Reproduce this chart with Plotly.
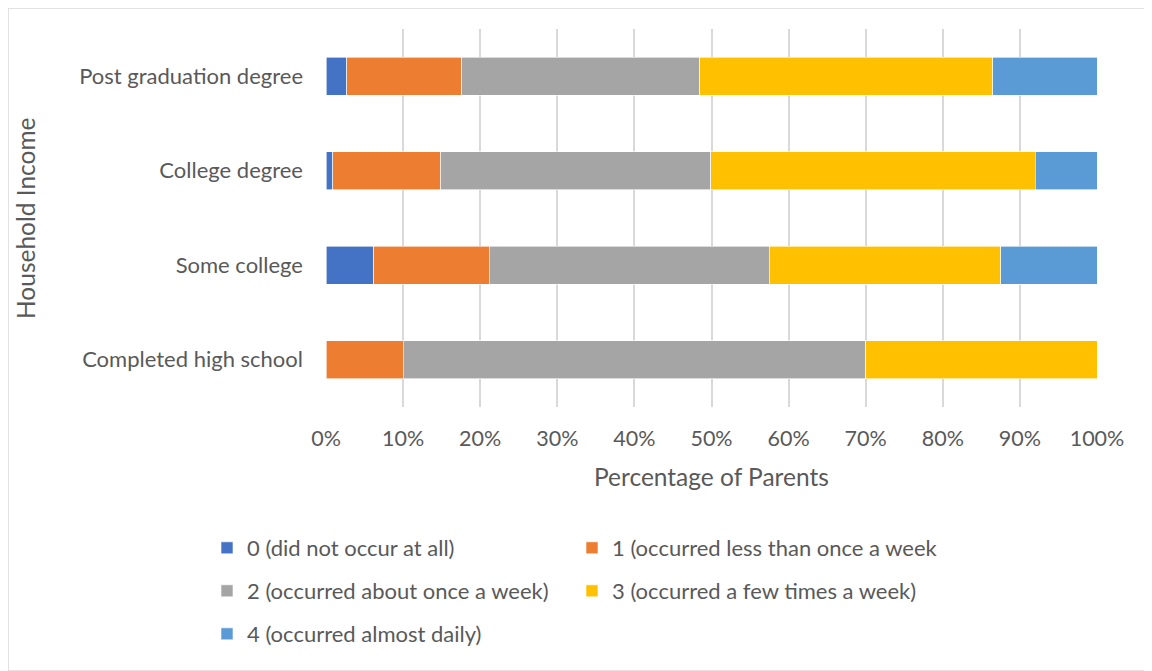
import plotly.graph_objects as go

education = ["Completed high school", "Some college", "College degree", "Post graduation degree"]

never = [0.0, 6.2, 0.9, 2.7]
less_than_weekly = [10.0, 15.0, 14.0, 14.9]
about_weekly = [60.0, 36.3, 35.0, 30.9]
few_times_weekly = [30.0, 30.0, 42.1, 38.0]
almost_daily = [0.0, 12.5, 8.0, 13.5]

series = [
    ("0 (did not occur at all)", never, "#4472C4", "legend"),
    ("1 (occurred less than once a week)", less_than_weekly, "#ED7D31", "legend"),
    ("2 (occurred about once a week)", about_weekly, "#A5A5A5", "legend2"),
    ("3 (occurred a few times a week)", few_times_weekly, "#FFC000", "legend2"),
    ("4 (occurred almost daily)", almost_daily, "#5B9BD5", "legend3"),
]

FONT = "Lato, Carlito, Calibri, sans-serif"
GREY_TEXT = "#595959"

# the page has an 8px body margin, so work in figure coords = page - 8
OFF = 8
W, H = 1152 - OFF, 671 - OFF
L, T = 326 - OFF, 29 - OFF
R = W - (1097 - OFF)
B = H - (407 - OFF)
pw = W - L - R
ph = H - T - B


def px_x(page_x):
    return (page_x - OFF - L) / pw


def px_y(page_y):
    return (T + ph - (page_y - OFF)) / ph


fig = go.Figure()
for name, vals, colour, leg in series:
    fig.add_trace(go.Bar(
        y=education,
        x=vals,
        name=name,
        orientation="h",
        marker=dict(color=colour, line=dict(color="white", width=0.6)),
        legend=leg,
    ))

legend_style = dict(
    orientation="h",
    xanchor="left",
    yanchor="middle",
    x=px_x(207),
    entrywidth=320,
    entrywidthmode="pixels",
    font=dict(family=FONT, size=22, color=GREY_TEXT),
    itemwidth=30,
    bgcolor="rgba(0,0,0,0)",
    traceorder="normal",
)

fig.update_layout(
    width=W,
    height=H,
    margin=dict(l=L, r=R, t=T, b=B),
    paper_bgcolor="white",
    plot_bgcolor="white",
    barmode="stack",
    bargap=0.6,
    font=dict(family=FONT, size=22, color=GREY_TEXT),
    xaxis=dict(
        range=[0, 100],
        dtick=10,
        ticksuffix="%",
        showgrid=True,
        gridcolor="#D9D9D9",
        gridwidth=2,
        zeroline=False,
        showline=False,
        ticklabelstandoff=16,
        tickfont=dict(family=FONT, size=21.5, color=GREY_TEXT),
    ),
    yaxis=dict(
        categoryorder="array",
        categoryarray=education,
        showgrid=False,
        zeroline=False,
        showline=False,
        ticklabelstandoff=22,
        tickfont=dict(family=FONT, size=22, color=GREY_TEXT),
    ),
    legend=dict(legend_style, y=px_y(548)),
    legend2=dict(legend_style, y=px_y(591)),
    legend3=dict(legend_style, y=px_y(634)),
)

fig.add_annotation(
    text="Percentage of Parents",
    xref="paper", yref="paper",
    x=px_x(711), y=px_y(476),
    xanchor="center", yanchor="middle",
    showarrow=False,
    font=dict(family=FONT, size=24.5, color=GREY_TEXT),
)
fig.add_annotation(
    text="Household Income",
    xref="paper", yref="paper",
    x=px_x(25), y=px_y(218),
    xanchor="center", yanchor="middle",
    textangle=-90,
    showarrow=False,
    font=dict(family=FONT, size=24.5, color=GREY_TEXT),
)

# chart border
fig.add_shape(
    type="rect",
    xref="paper", yref="paper",
    x0=-L / pw, x1=(W - L - 1) / pw,
    y0=-B / ph, y1=(ph + T) / ph,
    line=dict(color="#D9D9D9", width=1.5),
    fillcolor="rgba(0,0,0,0)",
    layer="below",
)

fig.write_html("out.html")
